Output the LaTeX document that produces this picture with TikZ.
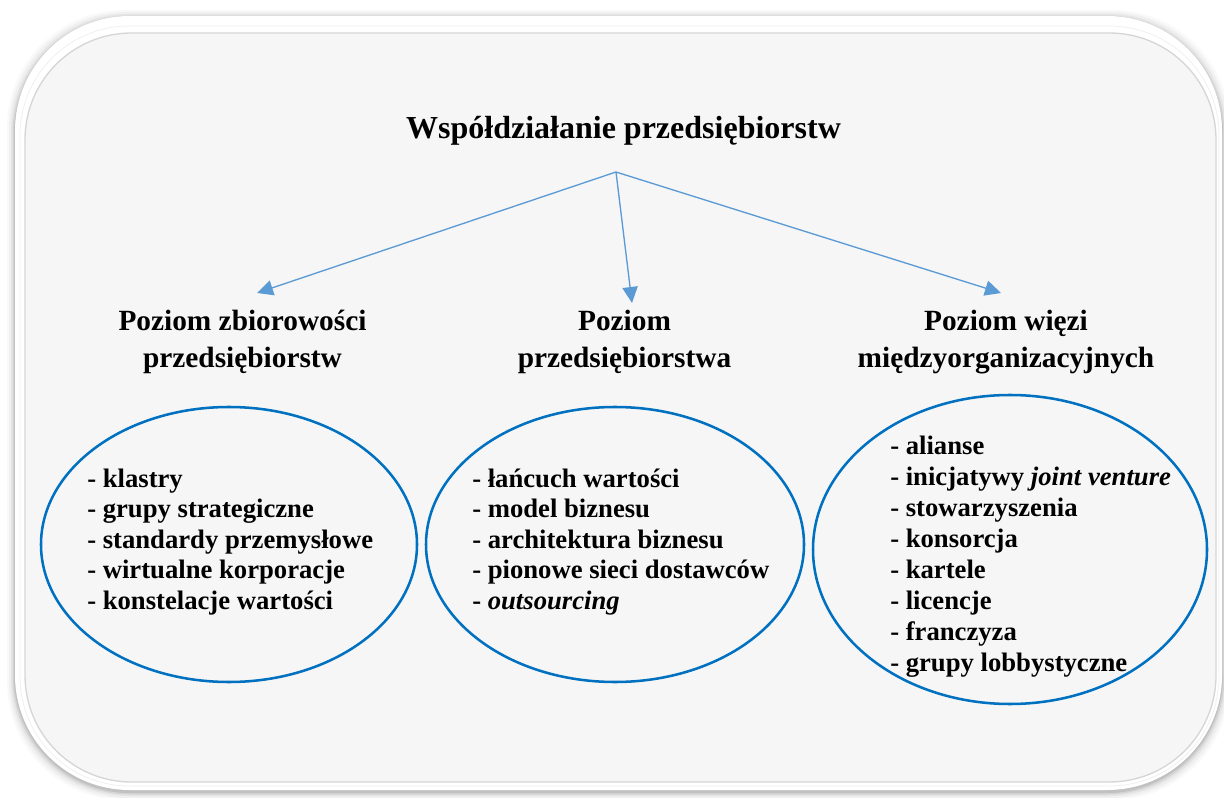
\documentclass[tikz,border=0pt]{standalone}
\usepackage{fontspec}
\setmainfont{Liberation Serif}
\usetikzlibrary{arrows.meta,shapes.geometric}
\definecolor{arrowblue}{HTML}{5B9BD5}
\definecolor{ringblue}{HTML}{0070C0}
\definecolor{panelgray}{HTML}{F6F6F6}

\begin{document}
\begin{tikzpicture}[x=0.75pt,y=-0.75pt,
  titletext/.style={font=\fontsize{24}{27.6}\selectfont\bfseries, inner sep=0pt, anchor=base},
  headtext/.style={font=\fontsize{22}{25.3}\selectfont\bfseries, inner sep=0pt, anchor=base},
  itemtext/.style={font=\fontsize{20}{23}\selectfont\bfseries, inner sep=0pt, anchor=base west},
  ring/.style={ellipse, draw=ringblue, line width=1.9pt, inner sep=0pt},
  link/.style={draw=arrowblue, line width=1pt, -{Triangle[length=12pt,width=11.5pt]}},
]
\useasboundingbox (0,0) rectangle (1224,798);
\clip (0,0) rectangle (1224,798);

% soft drop shadow under the rounded panel
\foreach \s/\o in {8/0.025,6/0.035,4/0.05,2.5/0.07,1.2/0.09}{
  \fill[black, opacity=\o, rounded corners=88pt]
    ({15-\s},{16-\s+2}) rectangle ({1222+\s},{790+\s+2});
}
% white bevel rim
\fill[white, rounded corners=86pt] (15,16) rectangle (1222,790);
\draw[black!6, line width=0.6pt, rounded corners=82pt] (20,26) rectangle (1219,786);
% grey face of the panel
\fill[panelgray, rounded corners=80pt] (25,33) rectangle (1216,782);
\draw[black!16, line width=1pt, rounded corners=80pt] (25,33) rectangle (1216,782);

% title and branching arrows
\node[titletext] (title) at (623.5,138.5) {Współdziałanie przedsiębiorstw};
\coordinate (hub) at (616,172);
\coordinate (tipL) at (257,293);
\coordinate (tipM) at (632,303);
\coordinate (tipR) at (1001,293);
\draw[link] (hub) -- (tipL);
\draw[link] (hub) -- (tipM);
\draw[link] (hub) -- (tipR);

% level headings
\node[headtext] (h1a) at (242.5,330.5) {Poziom zbiorowości};
\node[headtext] (h1b) at (242.5,367.5) {przedsiębiorstw};
\node[headtext] (h2a) at (624.5,330.5) {Poziom};
\node[headtext] (h2b) at (624.5,367.5) {przedsiębiorstwa};
\node[headtext] (h3a) at (1006,330.5) {Poziom więzi};
\node[headtext] (h3b) at (1006,367.5) {międzyorganizacyjnych};

% ellipses holding the lists
\node[ring, minimum width=282pt, minimum height=206.25pt] (eL) at (229,544.5) {};
\node[ring, minimum width=283.5pt, minimum height=206.25pt] (eM) at (615,544.5) {};
\node[ring, minimum width=295.5pt, minimum height=231.75pt] (eR) at (1010,549.5) {};

% list entries
\foreach \t [count=\i] in {{- klastry},{- grupy strategiczne},{- standardy przemysłowe},
    {- wirtualne korporacje},{- konstelacje wartości}}
  \node[itemtext] (L\i) at (87,{487+30.5*(\i-1)}) {\t};

\foreach \t [count=\i] in {{- łańcuch wartości},{- model biznesu},{- architektura biznesu},
    {- pionowe sieci dostawców},{- \textit{outsourcing}}}
  \node[itemtext] (M\i) at (472,{487+30.5*(\i-1)}) {\t};

\foreach \t [count=\i] in {{- alianse},{- inicjatywy \textit{joint venture}},{- stowarzyszenia},
    {- konsorcja},{- kartele},{- licencje},{- franczyza},{- grupy lobbystyczne}}
  \node[itemtext] (R\i) at (890,{454+31*(\i-1)}) {\t};
\end{tikzpicture}
\end{document}
